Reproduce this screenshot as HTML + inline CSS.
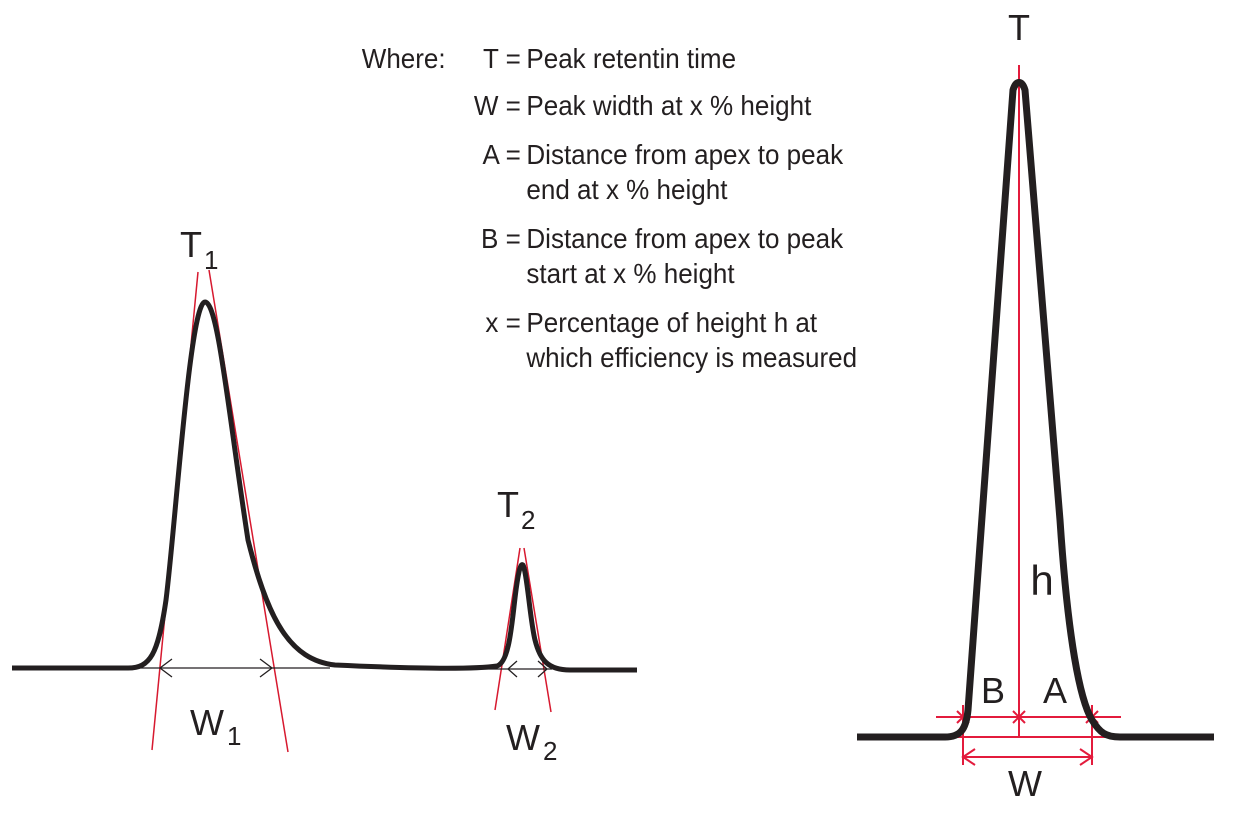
<!DOCTYPE html>
<html><head><style>body{margin:0;background:#fff}svg{display:block}</style></head><body>
<svg width="1241" height="820" xmlns="http://www.w3.org/2000/svg" font-family="Liberation Sans, sans-serif">
<g font-size="28" fill="#231f20">
<g transform="scale(0.93,1)">
<text x="389" y="68">Where:</text>
<text x="560" y="68" text-anchor="end">T =</text><text x="566" y="68">Peak retentin time</text>
<text x="560" y="115" text-anchor="end">W =</text><text x="566" y="115">Peak width at x % height</text>
<text x="560" y="164" text-anchor="end">A =</text><text x="566" y="164">Distance from apex to peak</text>
<text x="566" y="199">end at x % height</text>
<text x="560" y="248" text-anchor="end">B =</text><text x="566" y="248">Distance from apex to peak</text>
<text x="566" y="283">start at x % height</text>
<text x="560" y="332" text-anchor="end">x =</text><text x="566" y="332">Percentage of height h at</text>
<text x="566" y="367">which efficiency is measured</text>
</g></g>
<!-- left chromatogram -->
<g stroke="#d7192f" stroke-width="1.5" fill="none">
<line x1="152" y1="750" x2="198" y2="272"/><line x1="209" y1="270" x2="288" y2="752"/>
<line x1="495" y1="710" x2="520" y2="548"/><line x1="524" y1="548" x2="551" y2="712"/>
</g>
<g stroke="#231f20" stroke-width="1.3" fill="none">
<line x1="112" y1="668" x2="330" y2="668"/>
<polyline points="172,659 160,668 172,677"/><polyline points="260,659 272,668 260,677"/>
<line x1="408" y1="669" x2="552" y2="669"/>
<polyline points="517,661 508,669 517,677"/><polyline points="538,661 547,669 538,677"/>
</g>
<path d="M12,668 L128,668 C150,668 158,655 166,600 C176,520 190,302 205,302 C218,302 228,410 248,540 C268,620 290,660 335,665 C400,668 470,670 497,666 C510,662 512,620 516,590 C519,568 521,563 523,565 C527,572 530,620 535,640 C540,660 548,670 570,670 L637,670" stroke="#231f20" stroke-width="5" fill="none" stroke-linejoin="round"/>
<g font-size="36" fill="#231f20">
<text x="180" y="257">T</text><text x="204" y="269" font-size="26">1</text>
<text x="497" y="517">T</text><text x="521" y="529" font-size="26">2</text>
<text x="190" y="735">W</text><text x="227" y="745" font-size="26">1</text>
<text x="506" y="750">W</text><text x="543" y="760" font-size="26">2</text>
</g>
<!-- right peak -->
<g stroke="#e31b3c" stroke-width="2" fill="none">
<line x1="1019" y1="65" x2="1019" y2="737"/>
<line x1="936" y1="717" x2="1121" y2="717"/>
<line x1="942" y1="737" x2="1108" y2="737"/>
<line x1="963" y1="705" x2="963" y2="765"/><line x1="1092" y1="705" x2="1092" y2="765"/>
<line x1="963" y1="757" x2="1092" y2="757"/>
<polyline points="975,749 963,757 975,765"/><polyline points="1080,749 1092,757 1080,765"/>
<line x1="957" y1="711" x2="969" y2="723"/><line x1="957" y1="723" x2="969" y2="711"/>
<line x1="1013" y1="711" x2="1025" y2="723"/><line x1="1013" y1="723" x2="1025" y2="711"/>
<line x1="1086" y1="711" x2="1098" y2="723"/><line x1="1086" y1="723" x2="1098" y2="711"/>
</g>
<path d="M857,737 L945,737 C960,737 966,730 968,710 L1013,90 C1016,80 1022,80 1025,90 L1060,520 C1068,640 1080,700 1092,720 C1100,733 1106,737 1120,737 L1214,737" stroke="#231f20" stroke-width="7" fill="none" stroke-linejoin="round"/>
<g font-size="36" fill="#231f20" text-anchor="middle">
<text x="1019" y="40">T</text>
<text x="1042" y="595" font-size="42">h</text>
<text x="993" y="703">B</text><text x="1055" y="703">A</text>
<text x="1025" y="796">W</text>
</g>
</svg>
</body></html>
